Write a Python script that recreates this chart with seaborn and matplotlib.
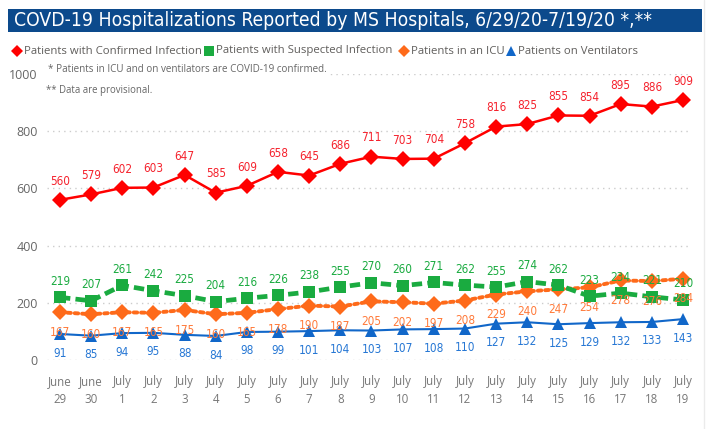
import matplotlib
matplotlib.use("Agg")
import matplotlib.pyplot as plt
import seaborn as sns
import pandas as pd
from matplotlib.patches import Rectangle
from matplotlib.lines import Line2D

days = ["June\n29", "June\n30"] + [f"July\n{d}" for d in range(1, 20)]
confirmed = [560, 579, 602, 603, 647, 585, 609, 658, 645, 686, 711, 703, 704, 758, 816, 825, 855, 854, 895, 886, 909]
suspected = [219, 207, 261, 242, 225, 204, 216, 226, 238, 255, 270, 260, 271, 262, 255, 274, 262, 223, 234, 221, 210]
icu = [167, 160, 167, 165, 175, 160, 165, 178, 190, 187, 205, 202, 197, 208, 229, 240, 247, 254, 278, 276, 284]
vent = [91, 85, 94, 95, 88, 84, 98, 99, 101, 104, 103, 107, 108, 110, 127, 132, 125, 129, 132, 133, 143]
yticks = [0, 200, 400, 600, 800, 1000]

sns.set_theme(style="white")
plt.rcParams['font.family'] = ['Open Sans', 'DejaVu Sans']
COND = dict(family="DejaVu Sans", fontstretch="condensed")

fig = plt.figure(figsize=(7.11, 4.29), dpi=100)
W, H = 711, 429
ax = fig.add_axes([47.5 / W, (H - 360) / H, (690.8 - 47.5) / W, 286 / H])

pos = list(range(len(days)))
df = pd.DataFrame({"x": pos, "confirmed": confirmed, "suspected": suspected, "icu": icu, "vent": vent})

RED = "#FF0000"
GREEN = "#1AAB40"
ORANGE = "#FE6A1A"
BLUE = "#1167C9"

sns.lineplot(data=df, x="x", y="confirmed", ax=ax, color=RED, lw=1.8, marker="D",
             markersize=8.5, markeredgewidth=0, zorder=5)
sns.lineplot(data=df, x="x", y="suspected", ax=ax, color=GREEN, lw=3.4, marker="s",
             markersize=8, markeredgewidth=0, zorder=4)
sns.lineplot(data=df, x="x", y="icu", ax=ax, color=ORANGE, lw=2.8, marker="D",
             markersize=8.5, markeredgewidth=0, zorder=3)
sns.lineplot(data=df, x="x", y="vent", ax=ax, color=BLUE, lw=1.5, marker="^",
             markersize=8, markeredgewidth=0, zorder=2)
lines = ax.get_lines()
lines[1].set_dashes([2.2, 1.1])
lines[2].set_dashes([0.9, 1.0])
lines[2].set_dash_capstyle("round")

for series, col, off in [(confirmed, "#F5222D", 13.5), (suspected, "#1AAB40", 11.5),
                         (icu, "#FF7A3A", -14.5), (vent, "#2677D4", -13.7)]:
    for x, v in zip(pos, series):
        ax.annotate(str(v), (x, v), xytext=(0, off), textcoords="offset points",
                    ha="center", va="center", color=col, fontsize=8.5, zorder=6, **COND)

ax.set_xlim(-0.4, 20.25)
ax.set_ylim(0, 1000)
ax.set_xticks(pos)
ax.set_xticklabels(days, color="#777777", fontsize=8.3, linespacing=1.45)
ax.set_yticks(yticks)
ax.set_yticklabels([str(t) for t in yticks], color="#666666", fontsize=9)
ax.tick_params(axis="x", length=0, pad=11)
ax.tick_params(axis="y", length=0, pad=7)
ax.set_xlabel("")
ax.set_ylabel("")
for s in ax.spines.values():
    s.set_visible(False)
ax.grid(axis="y", color="#CCCCCC", linestyle=(0, (1, 3)), lw=1.0)
ax.grid(axis="x", visible=False)
ax.set_axisbelow(True)

# title bar
fig.patches.append(Rectangle((8 / W, 1 - 32 / H), (702 - 8) / W, 23 / H,
                             transform=fig.transFigure, facecolor="#0C4A8C", edgecolor="none"))
fig.text(14 / W, 1 - 20.5 / H, "COVD-19 Hospitalizations Reported by MS Hospitals, 6/29/20-7/19/20 *,**",
         color="white", fontsize=13.9, va="center", ha="left", **COND)
fig.add_artist(Line2D([704 / W, 704 / W], [0, 1], color="#EBEBEB", lw=1, transform=fig.transFigure))

# legend
leg_items = [(RED, "D", 6.5, "Patients with Confirmed Infection", 17),
             (GREEN, "s", 7.5, "Patients with Suspected Infection", 209),
             (ORANGE, "D", 6.5, "Patients in an ICU", 404),
             (BLUE, "^", 7.5, "Patients on Ventilators", 511)]
ly = 1 - 51 / H
for col, mk, ms, txt, px in leg_items:
    fig.add_artist(Line2D([px / W], [ly], marker=mk, color=col, markersize=ms,
                          markeredgewidth=0, linestyle="none", transform=fig.transFigure))
    fig.text((px + 7) / W, ly, txt, color="#605E5C", fontsize=8.2, va="center", ha="left")

fig.text(48 / W, 1 - 70 / H, "* Patients in ICU and on ventilators are COVID-19 confirmed.",
         color="#666666", fontsize=7.15, va="center", ha="left",
         bbox=dict(facecolor="white", edgecolor="none", pad=1.0))
fig.text(46 / W, 1 - 90 / H, "** Data are provisional.", color="#666666", fontsize=6.9,
         va="center", ha="left")

fig.savefig("out.png", dpi=100, facecolor="white")
